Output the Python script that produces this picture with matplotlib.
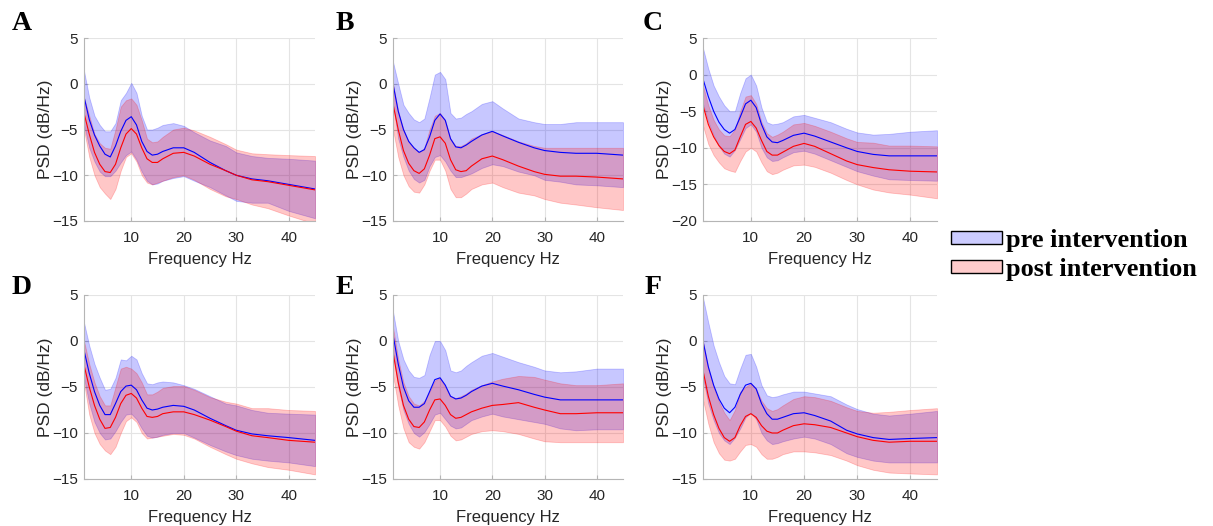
import matplotlib
matplotlib.use("Agg")
import matplotlib.pyplot as plt
from matplotlib.patches import Patch

freqs = [1, 2, 3, 4, 5, 6, 7, 8, 9, 10, 11, 12, 13, 14, 15, 16, 18, 20, 22, 25, 28, 30, 33, 36, 40, 45]

panel_labels = ["A", "B", "C", "D", "E", "F"]
ylims = [(-15, 5), (-15, 5), (-20, 5), (-15, 5), (-15, 5), (-15, 5)]
yticks_list = [[-15, -10, -5, 0, 5], [-15, -10, -5, 0, 5], [-20, -15, -10, -5, 0, 5],
               [-15, -10, -5, 0, 5], [-15, -10, -5, 0, 5], [-15, -10, -5, 0, 5]]
xticks = [10, 20, 30, 40]

# ---- Panel A ----
A_pre_mean = [-1.4, -3.9, -5.6, -6.8, -7.7, -8.0, -6.8, -5.2, -4.0, -3.6, -4.5, -6.3, -7.4, -7.8, -7.7, -7.4, -7.0, -7.0, -7.5, -8.6, -9.5, -10.0, -10.4, -10.6, -11.0, -11.5]
A_pre_lo = [-4.5, -7.0, -8.5, -9.6, -10.1, -10.1, -9.5, -8.6, -7.8, -7.4, -8.3, -9.6, -10.6, -11.0, -10.9, -10.6, -10.3, -10.1, -10.6, -11.3, -12.2, -12.8, -13.0, -13.0, -13.9, -14.7]
A_pre_hi = [1.4, -1.5, -3.5, -4.5, -5.2, -5.2, -4.3, -1.8, -1.0, 0.1, -1.0, -3.5, -5.0, -5.0, -4.8, -4.5, -4.3, -4.6, -5.3, -6.2, -6.8, -7.5, -7.9, -8.1, -8.2, -8.4]
A_post_mean = [-3.2, -5.5, -7.5, -8.8, -9.6, -9.7, -8.8, -7.0, -5.5, -4.9, -5.5, -7.0, -8.2, -8.6, -8.6, -8.2, -7.6, -7.5, -7.9, -8.8, -9.5, -10.0, -10.5, -10.7, -11.1, -11.6]
A_post_lo = [-5.0, -8.0, -10.0, -11.3, -12.0, -12.6, -11.5, -9.5, -8.0, -7.6, -8.5, -10.0, -10.8, -11.0, -10.8, -10.6, -10.2, -10.0, -10.5, -11.5, -12.3, -12.6, -13.2, -13.6, -14.4, -15.3]
A_post_hi = [-1.5, -3.5, -5.5, -6.5, -7.0, -7.1, -5.0, -2.5, -1.8, -1.6, -2.3, -4.0, -6.0, -6.4, -6.3, -5.8, -5.0, -4.8, -5.1, -5.8, -6.6, -7.2, -7.6, -7.7, -7.8, -7.9]

# ---- Panel B ----
B_pre_mean = [0.0, -3.0, -5.0, -6.3, -7.0, -7.5, -7.2, -5.8, -4.0, -3.3, -4.0, -6.0, -6.9, -7.0, -6.7, -6.3, -5.6, -5.2, -5.7, -6.4, -7.0, -7.3, -7.5, -7.6, -7.6, -7.8]
B_pre_lo = [-2.2, -6.0, -8.0, -9.5, -10.4, -10.8, -10.5, -9.0, -8.0, -7.8, -8.5, -9.5, -10.2, -10.2, -10.0, -9.8, -9.2, -8.8, -9.0, -9.6, -10.0, -10.5, -10.7, -11.0, -11.1, -11.3]
B_pre_hi = [2.4, 0.0, -2.3, -3.2, -3.9, -4.2, -3.8, -1.5, 1.0, 1.3, 0.5, -3.2, -3.8, -3.7, -3.3, -3.0, -2.2, -1.9, -2.7, -3.8, -4.2, -4.4, -4.4, -4.2, -4.2, -4.2]
B_post_mean = [-2.2, -5.0, -7.3, -8.7, -9.5, -9.8, -9.3, -7.8, -6.0, -5.8, -6.5, -8.3, -9.4, -9.6, -9.5, -9.0, -8.2, -7.9, -8.3, -9.0, -9.6, -9.9, -10.1, -10.1, -10.2, -10.4]
B_post_lo = [-5.0, -8.0, -10.0, -11.2, -11.8, -11.9, -11.0, -9.5, -8.3, -8.3, -9.5, -11.5, -12.4, -12.4, -12.0, -11.5, -11.0, -10.8, -11.3, -11.9, -12.2, -12.6, -13.0, -13.2, -13.5, -13.8]
B_post_hi = [0.0, -3.0, -5.0, -6.3, -7.0, -7.5, -7.0, -5.0, -3.5, -3.2, -4.0, -6.0, -6.8, -6.8, -6.5, -6.0, -5.5, -5.2, -5.6, -6.3, -6.8, -7.0, -7.0, -7.0, -7.0, -7.0]

# ---- Panel C ----
C_pre_mean = [-0.6, -3.0, -5.0, -6.5, -7.5, -8.0, -7.5, -5.8, -4.0, -3.5, -4.5, -6.8, -8.5, -9.2, -9.3, -9.0, -8.3, -8.0, -8.4, -9.2, -10.0, -10.5, -10.9, -11.1, -11.1, -11.1]
C_pre_lo = [-4.0, -6.5, -8.3, -9.8, -10.8, -11.2, -10.3, -8.8, -7.3, -6.8, -7.8, -10.0, -11.3, -11.8, -11.7, -11.3, -10.6, -10.4, -10.8, -11.7, -12.6, -13.2, -13.8, -14.3, -14.4, -14.5]
C_pre_hi = [3.6, 0.8, -1.5, -3.0, -4.2, -5.0, -5.0, -2.5, -0.5, 0.0, -1.5, -4.5, -6.5, -6.8, -6.7, -6.5, -5.7, -5.5, -5.9, -6.5, -7.4, -7.9, -8.2, -8.1, -7.8, -7.6]
C_post_mean = [-4.2, -6.8, -8.5, -9.7, -10.5, -10.8, -10.3, -8.5, -6.8, -6.4, -7.3, -9.0, -10.5, -11.0, -11.0, -10.6, -9.8, -9.4, -9.8, -10.8, -11.8, -12.3, -12.7, -13.0, -13.2, -13.3]
C_post_lo = [-7.0, -9.5, -11.0, -12.0, -12.8, -13.1, -13.3, -11.8, -10.5, -10.0, -10.5, -12.0, -13.2, -13.6, -13.4, -13.0, -12.4, -12.3, -12.6, -13.4, -14.4, -15.0, -15.7, -16.1, -16.4, -16.9]
C_post_hi = [-1.5, -4.2, -6.2, -7.5, -8.3, -8.4, -7.5, -5.0, -3.0, -2.8, -4.0, -6.5, -8.0, -8.5, -8.2, -7.8, -6.8, -6.6, -7.0, -7.8, -8.7, -9.2, -9.3, -9.7, -9.7, -9.8]

# ---- Panel D ----
D_pre_mean = [-1.0, -3.5, -5.5, -7.0, -8.0, -8.0, -6.8, -5.5, -4.9, -4.8, -5.3, -6.4, -7.3, -7.5, -7.4, -7.2, -7.0, -7.1, -7.5, -8.4, -9.2, -9.7, -10.1, -10.3, -10.5, -10.8]
D_pre_lo = [-4.0, -6.8, -8.8, -10.0, -10.7, -10.6, -9.8, -8.8, -8.0, -7.9, -8.5, -9.5, -10.3, -10.5, -10.4, -10.2, -10.0, -10.0, -10.5, -11.3, -12.0, -12.4, -12.8, -13.0, -13.2, -13.6]
D_pre_hi = [2.0, -0.5, -2.5, -4.0, -5.3, -5.2, -4.0, -2.0, -2.1, -1.6, -2.0, -3.5, -4.6, -4.7, -4.5, -4.4, -4.5, -4.8, -5.2, -6.0, -6.8, -7.0, -7.5, -7.8, -7.9, -8.0]
D_post_mean = [-2.6, -5.0, -7.0, -8.5, -9.5, -9.4, -8.3, -6.8, -5.9, -5.7, -6.2, -7.3, -8.2, -8.3, -8.2, -7.9, -7.7, -7.7, -8.0, -8.6, -9.3, -9.8, -10.3, -10.5, -10.8, -11.0]
D_post_lo = [-4.5, -8.0, -10.0, -11.2, -11.9, -12.3, -11.5, -10.0, -8.7, -8.3, -8.8, -10.0, -10.6, -10.5, -10.4, -10.3, -10.1, -10.2, -10.6, -11.5, -12.3, -12.8, -13.3, -13.7, -14.0, -14.5]
D_post_hi = [0.0, -2.5, -4.5, -6.0, -7.0, -7.0, -5.0, -3.0, -2.8, -3.0, -3.5, -4.5, -5.8, -5.8, -5.5, -5.1, -4.9, -4.9, -5.3, -6.1, -6.6, -6.8, -7.3, -7.3, -7.5, -7.6]

# ---- Panel E ----
E_pre_mean = [0.7, -2.5, -5.0, -6.5, -7.2, -7.2, -6.8, -5.5, -4.2, -4.0, -4.8, -6.0, -6.3, -6.2, -5.9, -5.5, -4.9, -4.6, -4.9, -5.3, -5.8, -6.1, -6.4, -6.4, -6.4, -6.4]
E_pre_lo = [-1.2, -5.0, -7.5, -9.0, -10.0, -10.4, -9.9, -9.0, -8.0, -7.8, -8.5, -9.2, -9.5, -9.4, -9.0, -8.6, -8.2, -7.9, -8.2, -8.5, -8.8, -9.0, -9.5, -9.7, -9.6, -9.6]
E_pre_hi = [3.2, 0.0, -2.0, -3.2, -3.9, -4.0, -3.7, -1.5, 0.0, 0.0, -1.0, -3.2, -3.4, -3.2, -2.7, -2.3, -1.6, -1.3, -1.7, -2.3, -2.8, -3.2, -3.4, -3.3, -3.0, -3.0]
E_post_mean = [-1.2, -4.5, -7.0, -8.5, -9.3, -9.4, -8.8, -7.5, -6.4, -6.3, -7.0, -8.0, -8.4, -8.3, -8.0, -7.7, -7.3, -7.0, -6.9, -6.7, -7.2, -7.5, -7.9, -7.9, -7.8, -7.8]
E_post_lo = [-3.7, -7.0, -9.5, -11.0, -11.5, -11.7, -11.0, -9.8, -8.6, -8.6, -9.3, -10.3, -10.8, -10.7, -10.4, -10.1, -9.8, -9.7, -9.8, -10.1, -10.6, -10.9, -11.0, -11.0, -11.0, -11.0]
E_post_hi = [1.5, -2.0, -4.5, -6.0, -6.8, -7.0, -6.5, -5.5, -4.3, -4.0, -5.0, -6.0, -6.2, -6.0, -5.7, -5.3, -4.8, -4.4, -4.1, -3.8, -3.9, -4.2, -4.6, -4.8, -4.8, -4.6]

# ---- Panel F ----
F_pre_mean = [0.0, -2.8, -4.8, -6.3, -7.3, -7.8, -7.2, -5.8, -4.8, -4.6, -5.2, -6.8, -7.9, -8.5, -8.5, -8.3, -7.9, -7.8, -8.1, -8.7, -9.7, -10.1, -10.5, -10.7, -10.6, -10.5]
F_pre_lo = [-4.0, -6.8, -8.6, -10.0, -10.8, -11.2, -10.5, -9.5, -8.3, -7.8, -8.5, -10.0, -10.8, -11.2, -11.1, -10.9, -10.6, -10.4, -10.6, -11.2, -12.2, -12.6, -13.0, -13.2, -13.2, -13.2]
F_pre_hi = [4.7, 2.0, -0.5, -2.3, -3.8, -4.6, -4.7, -3.0, -1.5, -1.4, -2.8, -4.8, -5.9, -6.1, -6.0, -5.8, -5.5, -5.5, -5.7, -6.0, -6.9, -7.4, -7.9, -8.1, -7.9, -7.6]
F_post_mean = [-3.2, -6.0, -8.0, -9.5, -10.5, -10.9, -10.5, -9.2, -8.2, -7.9, -8.3, -9.2, -9.8, -10.0, -10.0, -9.7, -9.2, -9.0, -9.1, -9.4, -10.0, -10.4, -10.8, -11.0, -10.9, -10.9]
F_post_lo = [-6.4, -9.0, -11.0, -12.2, -12.9, -13.0, -12.8, -12.0, -11.3, -11.2, -11.5, -12.3, -12.8, -12.8, -12.6, -12.3, -12.0, -12.0, -12.1, -12.4, -13.0, -13.5, -14.0, -14.3, -14.4, -14.5]
F_post_hi = [0.0, -3.0, -5.0, -6.6, -7.8, -8.6, -7.5, -5.5, -5.0, -4.6, -5.2, -6.5, -7.3, -7.6, -7.4, -7.0, -6.3, -6.0, -6.1, -6.5, -7.2, -7.6, -7.8, -7.7, -7.5, -7.3]

pre_mean = [A_pre_mean, B_pre_mean, C_pre_mean, D_pre_mean, E_pre_mean, F_pre_mean]
pre_lo = [A_pre_lo, B_pre_lo, C_pre_lo, D_pre_lo, E_pre_lo, F_pre_lo]
pre_hi = [A_pre_hi, B_pre_hi, C_pre_hi, D_pre_hi, E_pre_hi, F_pre_hi]
post_mean = [A_post_mean, B_post_mean, C_post_mean, D_post_mean, E_post_mean, F_post_mean]
post_lo = [A_post_lo, B_post_lo, C_post_lo, D_post_lo, E_post_lo, F_post_lo]
post_hi = [A_post_hi, B_post_hi, C_post_hi, D_post_hi, E_post_hi, F_post_hi]

legend_labels = ["pre intervention", "post intervention"]

W, H = 1213, 526
fig = plt.figure(figsize=(W / 100, H / 100), dpi=100)
fig.patch.set_facecolor("white")

# axes boxes in pixels: (left, top, right, bottom)
boxes = [(84, 38, 315, 221), (393, 38, 623, 221), (703, 38, 937, 221),
         (84, 295, 315, 479), (393, 295, 623, 479), (703, 295, 937, 479)]
letter_pos = [(22, 24), (345, 24), (653, 24), (22, 288), (345, 288), (653, 288)]

sans = ["Liberation Sans", "DejaVu Sans"]
serif = ["Liberation Serif", "DejaVu Serif"]
axis_gray = "#b5b5b5"
text_gray = "#262626"

for i in range(6):
    l, t, r, b = boxes[i]
    ax = fig.add_axes([l / W, 1 - b / H, (r - l) / W, (b - t) / H])
    ax.fill_between(freqs, pre_lo[i], pre_hi[i], color="blue", alpha=0.22, lw=0.6)
    ax.fill_between(freqs, post_lo[i], post_hi[i], color="red", alpha=0.22, lw=0.6)
    ax.plot(freqs, pre_mean[i], color="blue", lw=0.8)
    ax.plot(freqs, post_mean[i], color="red", lw=0.8)
    ax.set_xlim(1, 45)
    ax.set_ylim(*ylims[i])
    ax.set_xticks(xticks)
    ax.set_yticks(yticks_list[i])
    ax.grid(True, color="#e4e4e4", lw=0.8)
    ax.set_axisbelow(True)
    for s in ["top", "right"]:
        ax.spines[s].set_visible(False)
    for s in ["left", "bottom"]:
        ax.spines[s].set_color(axis_gray)
        ax.spines[s].set_linewidth(0.8)
    ax.tick_params(direction="in", length=3, color=axis_gray, labelcolor=text_gray,
                   labelsize=11)
    ax.tick_params(axis="x", pad=7.5)
    ax.tick_params(axis="y", pad=4.5)
    for lab in ax.get_xticklabels() + ax.get_yticklabels():
        lab.set_fontfamily(sans)
    ax.set_xlabel("Frequency Hz", fontsize=12, color=text_gray, family=sans, labelpad=4.5)
    ax.set_ylabel("PSD (dB/Hz)", fontsize=12.5, color=text_gray, family=sans, labelpad=-1)
    lx, ly = letter_pos[i]
    fig.text(lx / W, 1 - ly / H, panel_labels[i], fontsize=20, fontweight="bold",
             family=serif, ha="center", va="center")

handles = [Patch(facecolor="#ccccff", edgecolor="black", lw=1.0),
           Patch(facecolor="#ffcccc", edgecolor="black", lw=1.0)]
fig.legend(handles, legend_labels, loc="center left",
           bbox_to_anchor=(951 / W, 1 - 255 / H), frameon=False,
           prop={"family": serif, "weight": "bold", "size": 19},
           handlelength=1.95, handleheight=0.4, handletextpad=0.15, labelspacing=0.22,
           borderpad=0, borderaxespad=0)

fig.savefig("out.png", dpi=100, facecolor="white")
